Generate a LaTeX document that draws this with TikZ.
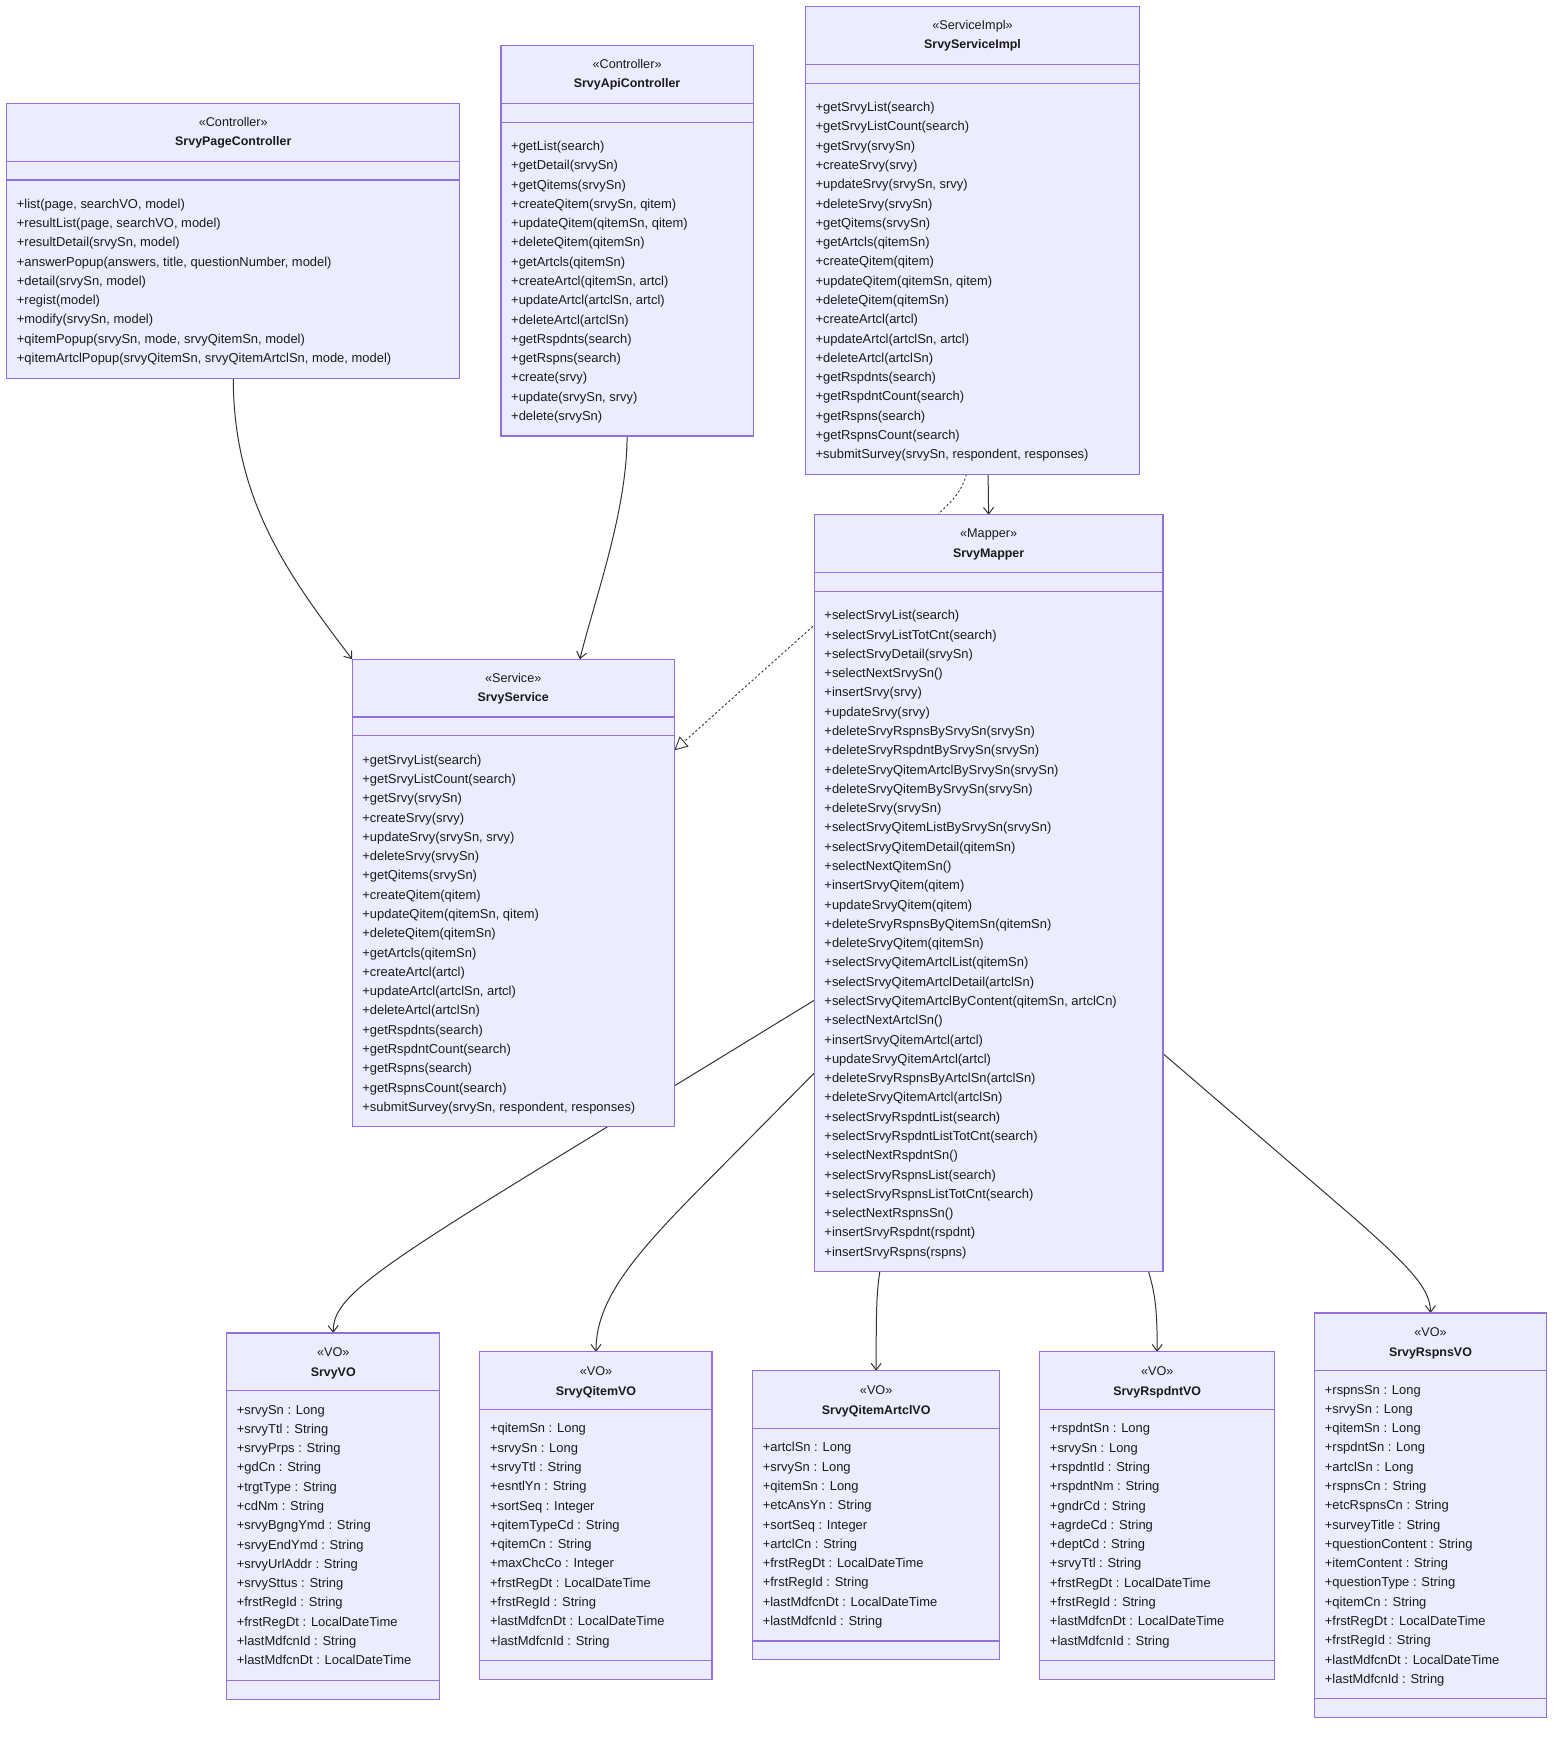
\documentclass[tikz,border=0pt]{standalone}
\usepackage{fontspec}
\setmainfont{Liberation Sans}
\usetikzlibrary{calc,arrows.meta}
\definecolor{boxfill}{HTML}{ECECFF}
\definecolor{boxline}{HTML}{9370DB}
\definecolor{edgecol}{HTML}{333333}
\definecolor{txt}{HTML}{1A1A1A}
\pgfdeclarelayer{bg}
\pgfsetlayers{bg,main}
\newcommand\memberlist[4]{%
  \foreach \mtext [count=\i from 0] in {#4} {
    \node[memtext] (#3-\i) at ({#1},{#2+4+\i*17.36}) {\mtext};
  }}
\newcommand\classbox[8]{%
  \pgfmathsetmacro\bw{#3-#2}%
  \pgfmathsetmacro\bh{108.5+(#5-1)*17.36}%
  \node[umlbox, minimum width=\bw pt, minimum height=\bh pt] (#1) at (#2,#4) {};
  \draw[divline] ($(#1.north west)+(0,52)$) -- ($(#1.north east)+(0,52)$);
  \draw[divline] ($(#1.north west)+(0,69)$) -- ($(#1.north east)+(0,69)$);
  \node[stereo] (#1-st) at ($(#1.north)+(0,20.5)$) {«#6»};
  \node[clsname] (#1-nm) at ($(#1.north)+(0,38)$) {#7};
  \memberlist{#2+9}{#4+90.5}{#1-m}{#8}
}
\newcommand\vobox[8]{%
  \pgfmathsetmacro\bw{#3-#2}%
  \pgfmathsetmacro\bh{104+(#5-1)*17.36}%
  \node[umlbox, minimum width=\bw pt, minimum height=\bh pt] (#1) at (#2,#4) {};
  \draw[divline] ($(#1.north west)+(0,52)$) -- ($(#1.north east)+(0,52)$);
  \draw[divline] ($(#1.south west)+(0,-17)$) -- ($(#1.south east)+(0,-17)$);
  \node[stereo] (#1-st) at ($(#1.north)+(0,21)$) {«#6»};
  \node[clsname] (#1-nm) at ($(#1.north)+(0,39)$) {#7};
  \memberlist{#2+9}{#4+69}{#1-m}{#8}
}
\tikzset{
  umlbox/.style={draw=boxline, fill=boxfill, line width=1pt, anchor=north west, inner sep=0pt, outer sep=0pt},
  divline/.style={draw=boxline, line width=1pt},
  memtext/.style={anchor=base west, inner sep=0pt, font=\fontsize{11.65}{13}\selectfont, text=txt},
  stereo/.style={anchor=base, inner sep=0pt, font=\fontsize{11.4}{13}\selectfont, text=txt},
  clsname/.style={anchor=base, inner sep=0pt, font=\fontsize{11.2}{13}\selectfont\bfseries, text=txt},
  assoc/.style={draw=edgecol, line width=0.9pt, -{Straight Barb[length=6pt, width=9pt, line width=0.9pt]}},
  realiz/.style={draw=edgecol, line width=0.8pt, dash pattern=on 2pt off 2pt, -{Triangle[open, length=12pt, width=12pt, fill=white, line width=0.8pt]}}
}
\begin{document}
\begin{tikzpicture}[x=1pt, y=-1pt]
\useasboundingbox (0,0) rectangle (1411,1570);

\classbox{page}{6}{414}{93}{9}{Controller}{SrvyPageController}{
{+list(page, searchVO, model)},
{+resultList(page, searchVO, model)},
{+resultDetail(srvySn, model)},
{+answerPopup(answers, title, questionNumber, model)},
{+detail(srvySn, model)},
{+regist(model)},
{+modify(srvySn, model)},
{+qitemPopup(srvySn, mode, srvyQitemSn, model)},
{+qitemArtclPopup(srvyQitemSn, srvyQitemArtclSn, mode, model)}}

\classbox{api}{451}{678}{41}{15}{Controller}{SrvyApiController}{
{+getList(search)},
{+getDetail(srvySn)},
{+getQitems(srvySn)},
{+createQitem(srvySn, qitem)},
{+updateQitem(qitemSn, qitem)},
{+deleteQitem(qitemSn)},
{+getArtcls(qitemSn)},
{+createArtcl(qitemSn, artcl)},
{+updateArtcl(artclSn, artcl)},
{+deleteArtcl(artclSn)},
{+getRspdnts(search)},
{+getRspns(search)},
{+create(srvy)},
{+update(srvySn, srvy)},
{+delete(srvySn)}}

\classbox{impl}{725}{1026}{6}{19}{ServiceImpl}{SrvyServiceImpl}{
{+getSrvyList(search)},
{+getSrvyListCount(search)},
{+getSrvy(srvySn)},
{+createSrvy(srvy)},
{+updateSrvy(srvySn, srvy)},
{+deleteSrvy(srvySn)},
{+getQitems(srvySn)},
{+getArtcls(qitemSn)},
{+createQitem(qitem)},
{+updateQitem(qitemSn, qitem)},
{+deleteQitem(qitemSn)},
{+createArtcl(artcl)},
{+updateArtcl(artclSn, artcl)},
{+deleteArtcl(artclSn)},
{+getRspdnts(search)},
{+getRspdntCount(search)},
{+getRspns(search)},
{+getRspnsCount(search)},
{+submitSurvey(srvySn, respondent, responses)}}

\classbox{mapper}{733}{1047}{463.5}{34}{Mapper}{SrvyMapper}{
{+selectSrvyList(search)},
{+selectSrvyListTotCnt(search)},
{+selectSrvyDetail(srvySn)},
{+selectNextSrvySn()},
{+insertSrvy(srvy)},
{+updateSrvy(srvy)},
{+deleteSrvyRspnsBySrvySn(srvySn)},
{+deleteSrvyRspdntBySrvySn(srvySn)},
{+deleteSrvyQitemArtclBySrvySn(srvySn)},
{+deleteSrvyQitemBySrvySn(srvySn)},
{+deleteSrvy(srvySn)},
{+selectSrvyQitemListBySrvySn(srvySn)},
{+selectSrvyQitemDetail(qitemSn)},
{+selectNextQitemSn()},
{+insertSrvyQitem(qitem)},
{+updateSrvyQitem(qitem)},
{+deleteSrvyRspnsByQitemSn(qitemSn)},
{+deleteSrvyQitem(qitemSn)},
{+selectSrvyQitemArtclList(qitemSn)},
{+selectSrvyQitemArtclDetail(artclSn)},
{+selectSrvyQitemArtclByContent(qitemSn, artclCn)},
{+selectNextArtclSn()},
{+insertSrvyQitemArtcl(artcl)},
{+updateSrvyQitemArtcl(artcl)},
{+deleteSrvyRspnsByArtclSn(artclSn)},
{+deleteSrvyQitemArtcl(artclSn)},
{+selectSrvyRspdntList(search)},
{+selectSrvyRspdntListTotCnt(search)},
{+selectNextRspdntSn()},
{+selectSrvyRspnsList(search)},
{+selectSrvyRspnsListTotCnt(search)},
{+selectNextRspnsSn()},
{+insertSrvyRspdnt(rspdnt)},
{+insertSrvyRspns(rspns)}}

\classbox{svc}{317}{607}{593.5}{19}{Service}{SrvyService}{
{+getSrvyList(search)},
{+getSrvyListCount(search)},
{+getSrvy(srvySn)},
{+createSrvy(srvy)},
{+updateSrvy(srvySn, srvy)},
{+deleteSrvy(srvySn)},
{+getQitems(srvySn)},
{+createQitem(qitem)},
{+updateQitem(qitemSn, qitem)},
{+deleteQitem(qitemSn)},
{+getArtcls(qitemSn)},
{+createArtcl(artcl)},
{+updateArtcl(artclSn, artcl)},
{+deleteArtcl(artclSn)},
{+getRspdnts(search)},
{+getRspdntCount(search)},
{+getRspns(search)},
{+getRspnsCount(search)},
{+submitSurvey(srvySn, respondent, responses)}}

\vobox{vo}{204}{396}{1200}{14}{VO}{SrvyVO}{
{+srvySn : Long},
{+srvyTtl : String},
{+srvyPrps : String},
{+gdCn : String},
{+trgtType : String},
{+cdNm : String},
{+srvyBgngYmd : String},
{+srvyEndYmd : String},
{+srvyUrlAddr : String},
{+srvySttus : String},
{+frstRegId : String},
{+frstRegDt : LocalDateTime},
{+lastMdfcnId : String},
{+lastMdfcnDt : LocalDateTime}}

\vobox{qvo}{432}{641}{1217}{12}{VO}{SrvyQitemVO}{
{+qitemSn : Long},
{+srvySn : Long},
{+srvyTtl : String},
{+esntlYn : String},
{+sortSeq : Integer},
{+qitemTypeCd : String},
{+qitemCn : String},
{+maxChcCo : Integer},
{+frstRegDt : LocalDateTime},
{+frstRegId : String},
{+lastMdfcnDt : LocalDateTime},
{+lastMdfcnId : String}}

\vobox{avo}{677.5}{900}{1234}{10}{VO}{SrvyQitemArtclVO}{
{+artclSn : Long},
{+srvySn : Long},
{+qitemSn : Long},
{+etcAnsYn : String},
{+sortSeq : Integer},
{+artclCn : String},
{+frstRegDt : LocalDateTime},
{+frstRegId : String},
{+lastMdfcnDt : LocalDateTime},
{+lastMdfcnId : String}}

\vobox{rvo}{936}{1147.5}{1217}{12}{VO}{SrvyRspdntVO}{
{+rspdntSn : Long},
{+srvySn : Long},
{+rspdntId : String},
{+rspdntNm : String},
{+gndrCd : String},
{+agrdeCd : String},
{+deptCd : String},
{+srvyTtl : String},
{+frstRegDt : LocalDateTime},
{+frstRegId : String},
{+lastMdfcnDt : LocalDateTime},
{+lastMdfcnId : String}}

\vobox{svo}{1183.5}{1392}{1182}{16}{VO}{SrvyRspnsVO}{
{+rspnsSn : Long},
{+srvySn : Long},
{+qitemSn : Long},
{+rspdntSn : Long},
{+artclSn : Long},
{+rspnsCn : String},
{+etcRspnsCn : String},
{+surveyTitle : String},
{+questionContent : String},
{+itemContent : String},
{+questionType : String},
{+qitemCn : String},
{+frstRegDt : LocalDateTime},
{+frstRegId : String},
{+lastMdfcnDt : LocalDateTime},
{+lastMdfcnId : String}}

\begin{pgfonlayer}{bg}
\fill[white] (0,0) rectangle (1411,1570);
\draw[assoc] (page.south) .. controls +(0,110) and +(-57,-75) .. (svc.north west);
\draw[assoc] (api.south) .. controls +(0,68) and +(13,-53) .. ($(svc.north west)+(205,0)$);
\draw[assoc] ($(impl.south west)+(164.5,0)$) -- ($(mapper.north west)+(157,0)$);
\draw[realiz] ($(impl.south west)+(145,0)$) .. controls +(-5,18) and +(10,-10) .. ($(mapper.north west)+(111,0)$) -- ($(svc.north east)+(0,82)$);
\draw[assoc] ($(mapper.north west)+(0,437)$) -- (500,1043) .. controls (330,1147) and (299.5,1170) .. (vo.north);
\draw[assoc] ($(mapper.north west)+(0,502.5)$) -- (640,1060) .. controls (570,1130) and (536.5,1170) .. (qvo.north);
\draw[assoc] ($(mapper.south west)+(59,0)$) .. controls +(-3,20) and +(0,-54) .. (avo.north);
\draw[assoc] ($(mapper.south west)+(301,0)$) .. controls +(6,20) and +(0,-37) .. (rvo.north);
\draw[assoc] ($(mapper.north east)+(0,485)$) -- (1200,1080) .. controls (1270,1140) and (1287.75,1160) .. (svo.north);
\end{pgfonlayer}
\end{tikzpicture}
\end{document}
